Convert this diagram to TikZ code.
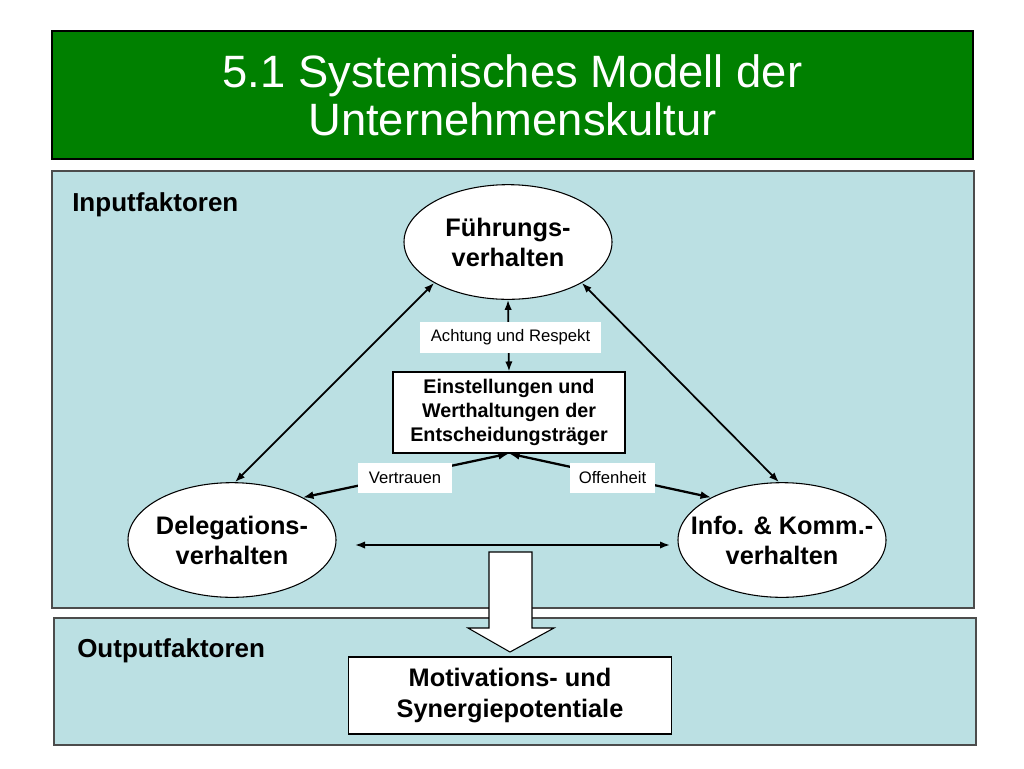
\documentclass[tikz,border=0pt]{standalone}
\usepackage{fontspec}
\setmainfont{Liberation Sans}
\usetikzlibrary{arrows.meta,shapes.geometric}
\definecolor{titlegreen}{RGB}{0,128,0}
\definecolor{panelblue}{RGB}{187,224,227}
\begin{document}
\begin{tikzpicture}[x=0.75pt,y=-0.75pt,
  panel/.style={draw=black!70, fill=panelblue, line width=0.8pt},
  oval/.style={ellipse, draw=black, fill=white, line width=0.8pt, inner sep=0pt,
    minimum width=156pt, minimum height=86pt},
  ovaltext/.style={inner sep=0pt, align=center,
    font=\bfseries\fontsize{19}{22.5}\selectfont},
  centerbox/.style={rectangle, draw=black, fill=white, line width=0.8pt, inner sep=0pt,
    align=center},
  lbl/.style={rectangle, fill=white, inner sep=0pt, align=center,
    font=\fontsize{12.5}{14}\selectfont},
  dbl/.style={{Latex[length=7.5pt,width=5.5pt]}-{Latex[length=7.5pt,width=5.5pt]}, line width=1.3pt},
  dblthick/.style={{Latex[length=8pt,width=6pt]}-{Latex[length=8pt,width=6pt]}, line width=1.7pt},
  sectitle/.style={anchor=west, inner sep=0pt, font=\bfseries\fontsize{19.5}{22}\selectfont}
]
\useasboundingbox[fill=white] (0,0) rectangle (1024,768);

% title
\node[draw=black, fill=titlegreen, line width=0.8pt, minimum width=690.75pt, minimum height=96pt,
  inner sep=0pt, text=white, align=center, font=\fontsize{34}{36}\selectfont]
  (title) at (512.5,95) {5.1 Systemisches Modell der\\Unternehmenskultur};

% panels
\node[panel, minimum width=691.5pt, minimum height=327.75pt, inner sep=0pt] (inpanel) at (513,389.5) {};
\node[panel, minimum width=691.5pt, minimum height=95.25pt, inner sep=0pt] (outpanel) at (515,681.5) {};

\node[sectitle] (inlbl) at (72,205) {Inputfaktoren};
\node[sectitle] (outlbl) at (77,651) {Outputfaktoren};

% ellipses
\node[oval] (fv) at (508,242) {};
\node[ovaltext] (fvt) at (fv) {Führungs-\\verhalten};
\node[oval] (dv) at (232,540) {};
\node[ovaltext] (dvt) at (dv) {Delegations-\\verhalten};
\node[oval] (iv) at (782,540) {};
\node[ovaltext] (ivt) at (iv) {Info. \& Komm.-\\verhalten};

% center box
\node[centerbox, minimum width=174pt, minimum height=60.75pt,
  font=\bfseries\fontsize{14.8}{18}\selectfont] (ein) at (509,412.5)
  {Einstellungen und\\Werthaltungen der\\Entscheidungsträger};

% connectors
\draw[dbl] (fv.south) -- (ein.north);
\draw[dblthick] (dv.31) -- (ein.south);
\draw[dblthick] (iv.149) -- (ein.south);
\draw[dbl] (fv.209) -- (dv.87);
\draw[dbl] (fv.331) -- (iv.93);
\coordinate (hl) at (355,545);
\coordinate (hr) at (670,545);
\draw[dbl] (hl) -- (hr);

% labels on connectors
\node[lbl, minimum width=135.75pt, minimum height=23.25pt] (achtung) at (510.5,337) {Achtung und Respekt};
\node[lbl, minimum width=70.5pt, minimum height=22.5pt] (vertrauen) at (405,478) {Vertrauen};
\node[lbl, minimum width=63.75pt, minimum height=22.5pt] (offenheit) at (612.5,478) {Offenheit};

% output box
\node[centerbox, minimum width=242.25pt, minimum height=57.75pt,
  font=\bfseries\fontsize{19}{23}\selectfont] (mot) at (510,695.5)
  {Motivations- und\\Synergiepotentiale};

% big down arrow
\draw[fill=white, draw=black, line width=0.8pt]
  (489,552) -- (532,552) -- (532,628) -- (554,628) -- (510,652) -- (468,628) -- (489,628) -- cycle;
\end{tikzpicture}
\end{document}
